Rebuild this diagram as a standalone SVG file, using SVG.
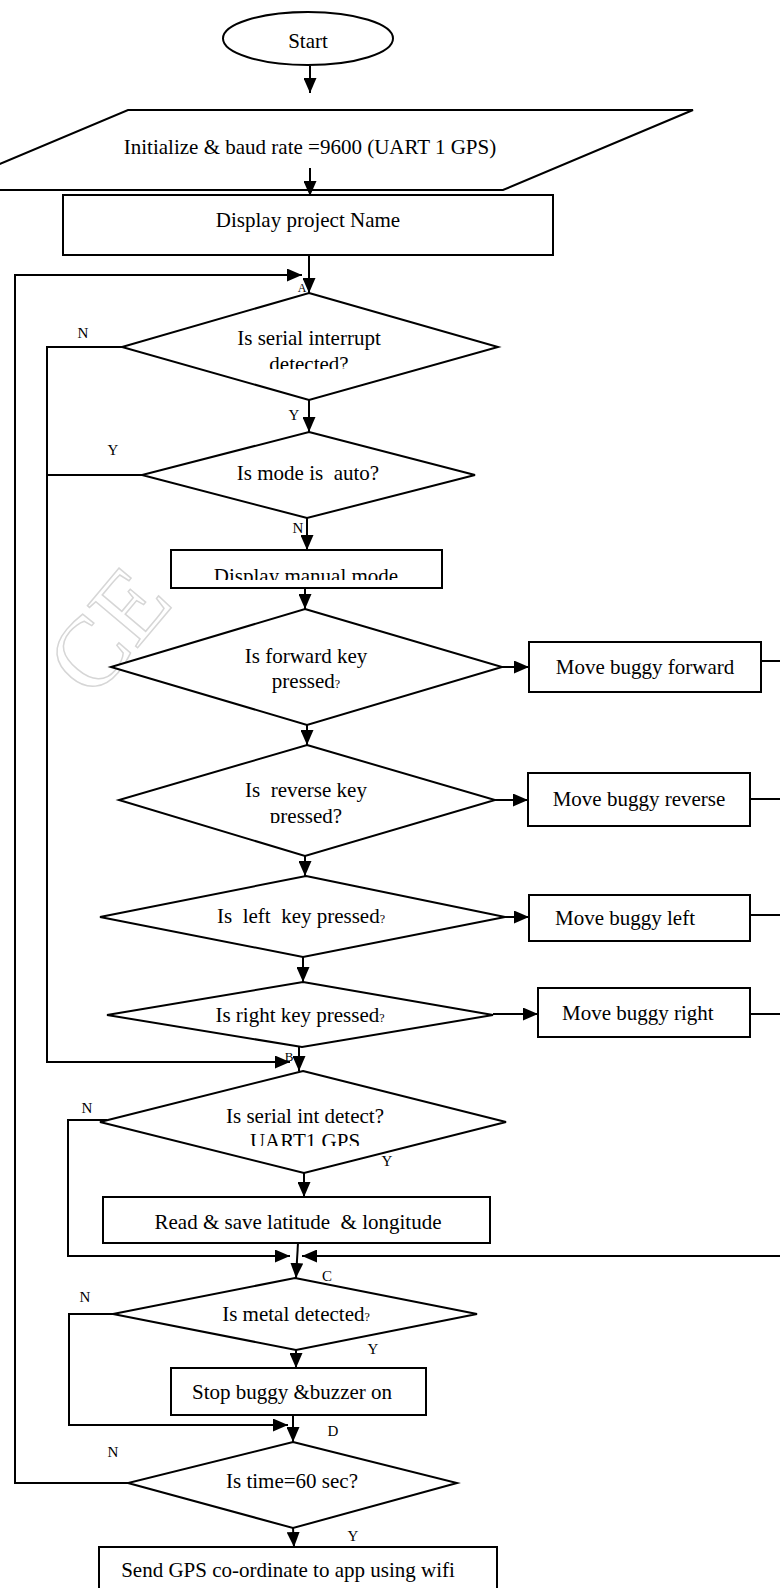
<svg xmlns="http://www.w3.org/2000/svg" width="780" height="1588" viewBox="0 0 780 1588">
<style>
.s{fill:#fff;stroke:#000;stroke-width:2}
.t{font-family:"Liberation Serif","Times New Roman",serif;font-size:21px;fill:#000;text-anchor:middle}
.ts{text-anchor:start}
.l{font-family:"Liberation Serif","Times New Roman",serif;font-size:15px;fill:#000;text-anchor:middle}
.q{font-size:12px}
.c{fill:none;stroke:#000;stroke-width:2}
.a{marker-end:url(#ah)}
.wm{font-family:"Liberation Serif",serif;font-size:100px;fill:none;stroke:#d6d6d6;stroke-width:1.5}
</style>
<defs>
<marker id="ah" viewBox="0 0 15 13" refX="15" refY="6.5" markerWidth="15" markerHeight="13" markerUnits="userSpaceOnUse" orient="auto"><path d="M0,0 L15,6.5 L0,13 z" fill="#000"/></marker>
<clipPath id="cp1"><rect x="0" y="0" width="780" height="369"/></clipPath>
<clipPath id="cp2"><rect x="0" y="0" width="780" height="580"/></clipPath>
<clipPath id="cp3"><rect x="0" y="0" width="780" height="823"/></clipPath>
<clipPath id="cp4"><rect x="0" y="0" width="780" height="1146"/></clipPath>
</defs>
<rect width="780" height="1588" fill="#fff"/>
<text class="wm" transform="translate(93,701) rotate(-50)">CE</text>

<g id="start"><ellipse class="s" cx="308" cy="38.5" rx="85" ry="26.5"/><text class="t" x="308" y="48">Start</text></g>
<g id="init"><polygon class="s" points="128,110 693,110 503,190 -62,190"/><text class="t" x="310" y="154">Initialize &amp; baud rate =9600 (UART 1 GPS)</text></g>
<g id="display"><rect class="s" x="63" y="195" width="490" height="60"/><text class="t" x="308" y="227">Display project Name</text></g>
<g id="labelA"><text class="l" x="302" y="292" style="font-size:12px">A</text></g>
<g id="d1"><polygon class="s" points="309,293 498,347 309,400 122,347"/><text class="t" x="309" y="345">Is serial interrupt</text><text class="t" x="309" y="371" clip-path="url(#cp1)">detected?</text></g>
<g id="d2"><polygon class="s" points="309,432 475,475 307,518 142,475"/><text class="t" x="308" y="480" style="white-space:pre">Is mode is  auto?</text></g>
<g id="manual"><rect class="s" x="171" y="550" width="271" height="38"/><text class="t" x="306" y="583" clip-path="url(#cp2)">Display manual mode</text></g>
<g id="d3"><polygon class="s" points="305,609 502,667 307,725 111,667"/><text class="t" x="306" y="663">Is forward key</text><text class="t" x="306" y="688">pressed<tspan class="q">?</tspan></text></g>
<g id="fwd"><rect class="s" x="529" y="642" width="232" height="50"/><text class="t" x="645" y="674">Move buggy forward</text></g>
<g id="d4"><polygon class="s" points="307,745 495,800 305,856 119,800"/><text class="t" x="306" y="797" style="white-space:pre">Is  reverse key</text><text class="t" x="306" y="823" clip-path="url(#cp3)">pressed?</text></g>
<g id="rev"><rect class="s" x="528" y="773" width="222" height="53"/><text class="t" x="639" y="806">Move buggy reverse</text></g>
<g id="d5"><polygon class="s" points="306,876 505,917 303,957 100,917"/><text class="t" x="301" y="923" style="white-space:pre">Is  left  key pressed<tspan class="q">?</tspan></text></g>
<g id="left"><rect class="s" x="529" y="895" width="221" height="46"/><text class="t ts" x="555" y="925">Move buggy left</text></g>
<g id="d6"><polygon class="s" points="303,982 493,1015 302,1047 107,1015"/><text class="t" x="300" y="1022">Is right key pressed<tspan class="q">?</tspan></text></g>
<g id="right"><rect class="s" x="538" y="988" width="212" height="49"/><text class="t ts" x="562" y="1020">Move buggy right</text></g>
<g id="labelB"><text class="l" x="289" y="1061" style="font-size:13px">B</text></g>
<g id="d7"><polygon class="s" points="303,1071 506,1122 304,1173 100,1122"/><text class="t" x="305" y="1123">Is serial int detect?</text><text class="t" x="305" y="1148" clip-path="url(#cp4)">UART1 GPS</text></g>
<g id="read"><rect class="s" x="103" y="1197" width="387" height="46"/><text class="t" x="298" y="1229" style="white-space:pre">Read &amp; save latitude  &amp; longitude</text></g>
<g id="d8"><polygon class="s" points="295,1278 477,1314 296,1350 113,1314"/><text class="t" x="296" y="1321">Is metal detected<tspan class="q">?</tspan></text></g>
<g id="stop"><rect class="s" x="171" y="1368" width="255" height="47"/><text class="t" x="292" y="1399">Stop buggy &amp;buzzer on</text></g>
<g id="d9"><polygon class="s" points="293,1442 457,1483 293,1528 128,1483"/><text class="t" x="292" y="1488">Is time=60 sec?</text></g>
<g id="send"><rect class="s" x="99" y="1547" width="398" height="60"/><text class="t" x="288" y="1577">Send GPS co-ordinate to app using wifi</text></g>

<g id="connectors">
<line class="c a" x1="310" y1="66" x2="310" y2="93"/>
<line class="c a" x1="310" y1="168" x2="310" y2="196"/>
<line class="c a" x1="309" y1="255" x2="309" y2="293"/>
<polyline class="c a" points="128,1483 15,1483 15,275 302,275"/>
<line class="c a" x1="309" y1="400" x2="309" y2="432"/>
<polyline class="c a" points="122,347 47,347 47,1062 290,1062"/>
<line class="c" x1="142" y1="475" x2="47" y2="475"/>
<line class="c a" x1="307" y1="518" x2="307" y2="550"/>
<line class="c a" x1="305" y1="588" x2="305" y2="609"/>
<line class="c a" x1="502" y1="667" x2="529" y2="667"/>
<line class="c" x1="761" y1="661" x2="780" y2="661"/>
<line class="c a" x1="307" y1="725" x2="307" y2="745"/>
<line class="c a" x1="495" y1="800" x2="528" y2="800"/>
<line class="c" x1="750" y1="799" x2="780" y2="799"/>
<line class="c a" x1="305" y1="856" x2="305" y2="876"/>
<line class="c a" x1="505" y1="917" x2="529" y2="917"/>
<line class="c" x1="750" y1="915" x2="780" y2="915"/>
<line class="c a" x1="303" y1="957" x2="303" y2="982"/>
<line class="c a" x1="493" y1="1014" x2="538" y2="1014"/>
<line class="c" x1="750" y1="1014" x2="780" y2="1014"/>
<line class="c a" x1="299" y1="1047" x2="299" y2="1071"/>
<polyline class="c a" points="107,1120 68,1120 68,1256 290,1256"/>
<line class="c a" x1="304" y1="1173" x2="304" y2="1197"/>
<line class="c a" x1="298" y1="1243" x2="296" y2="1278"/>
<line class="c a" x1="780" y1="1256" x2="302" y2="1256"/>
<polyline class="c a" points="113,1314 69,1314 69,1425 288,1425"/>
<line class="c a" x1="296" y1="1350" x2="296" y2="1368"/>
<line class="c a" x1="293" y1="1415" x2="293" y2="1442"/>
<line class="c a" x1="293" y1="1528" x2="294" y2="1547"/>
</g>
<g id="labels">
<text class="l" x="83" y="338">N</text>
<text class="l" x="294" y="420">Y</text>
<text class="l" x="113" y="455">Y</text>
<text class="l" x="298" y="533">N</text>
<text class="l" x="87" y="1113">N</text>
<text class="l" x="387" y="1166">Y</text>
<text class="l" x="327" y="1281">C</text>
<text class="l" x="85" y="1302">N</text>
<text class="l" x="373" y="1354">Y</text>
<text class="l" x="333" y="1436">D</text>
<text class="l" x="113" y="1457">N</text>
<text class="l" x="353" y="1541">Y</text>
</g>
</svg>
